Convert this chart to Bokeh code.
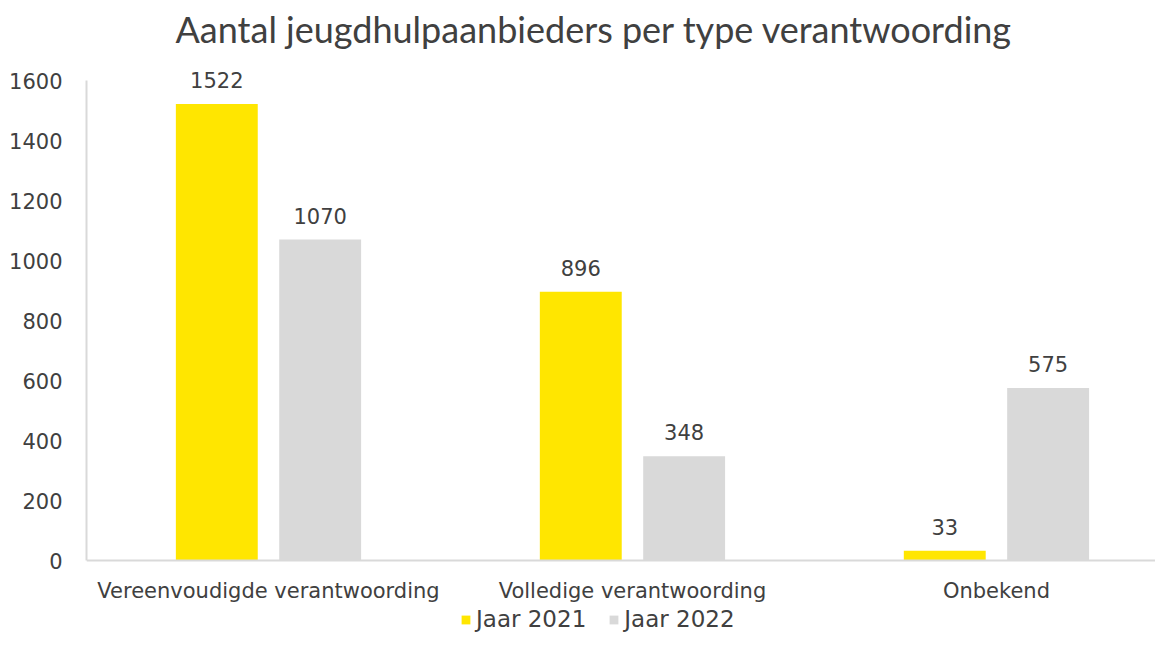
from bokeh.plotting import figure
from bokeh.models import ColumnDataSource, Range1d, FixedTicker, Legend, LegendItem, LabelSet, Span
from bokeh.core.properties import value
from bokeh.embed import file_html
from bokeh.resources import INLINE

categories = ["Vereenvoudigde verantwoording", "Volledige verantwoording", "Onbekend"]
jaar_2021 = [1522, 896, 33]
jaar_2022 = [1070, 348, 575]
series_names = ["Jaar 2021", "Jaar 2022"]
y_ticks = [0, 200, 400, 600, 800, 1000, 1200, 1400, 1600]

YELLOW = "#FFE600"
GREY = "#D9D9D9"
TEXT = "#404040"
FONT = "DejaVu Sans"

idx = list(range(len(categories)))
offset = 0.142
bw = 0.225

src1 = ColumnDataSource(dict(x=[i - offset for i in idx], top=jaar_2021, lab=[str(v) for v in jaar_2021]))
src2 = ColumnDataSource(dict(x=[i + offset for i in idx], top=jaar_2022, lab=[str(v) for v in jaar_2022]))
src_cat = ColumnDataSource(dict(x=idx, y=[0] * len(idx), lab=categories))

p = figure(width=1155, height=633, output_backend="svg", toolbar_location=None,
           x_range=Range1d(-0.5, 2.437), y_range=Range1d(-243, 1700),
           min_border_left=86, min_border_right=0, min_border_top=50, min_border_bottom=0,
           title="Aantal jeugdhulpaanbieders per type verantwoording")
p.title.text_font = "Lato"
p.title.text_font_size = "36px"
p.title.text_font_style = "normal"
p.title.text_color = TEXT
p.title.align = "left"
p.title.offset = 89
p.title.standoff = 0
p.outline_line_color = None
p.xgrid.grid_line_color = None
p.ygrid.grid_line_color = None
p.xaxis.visible = False

r1 = p.vbar(x="x", top="top", width=bw, source=src1, color=YELLOW, line_color=None)
r2 = p.vbar(x="x", top="top", width=bw, source=src2, color=GREY, line_color=None)

# category axis line and labels at y = 0
p.add_layout(Span(location=0, dimension="width", line_color=GREY, line_width=2))
p.add_layout(LabelSet(x="x", y="y", text="lab", source=src_cat, text_align="center",
                      text_baseline="middle", y_offset=-30, text_font=value(FONT),
                      text_font_size=value("21px"), text_color=TEXT))

for s in (src1, src2):
    p.add_layout(LabelSet(x="x", y="top", text="lab", source=s, text_align="center",
                          text_baseline="bottom", y_offset=16, text_font=value(FONT),
                          text_font_size=value("21px"), text_color=TEXT))

p.yaxis.ticker = FixedTicker(ticks=y_ticks)
p.yaxis.bounds = (0, 1600)
p.yaxis.axis_line_color = GREY
p.yaxis.axis_line_width = 2
p.yaxis.major_tick_line_color = None
p.yaxis.minor_tick_line_color = None
p.yaxis.major_label_text_font = FONT
p.yaxis.major_label_text_font_size = "21px"
p.yaxis.major_label_text_color = TEXT
p.yaxis.major_label_standoff = 18

legend = Legend(items=[LegendItem(label=series_names[0], renderers=[r1]),
                       LegendItem(label=series_names[1], renderers=[r2])],
                orientation="horizontal", location=(374, 1),
                label_text_font=FONT, label_text_font_size="23px", label_text_color=TEXT,
                glyph_width=11, glyph_height=11, spacing=22, label_standoff=5,
                padding=2, margin=0,
                border_line_color=None, background_fill_alpha=0)
p.add_layout(legend)

open("out.html", "w").write(file_html(p, INLINE))
